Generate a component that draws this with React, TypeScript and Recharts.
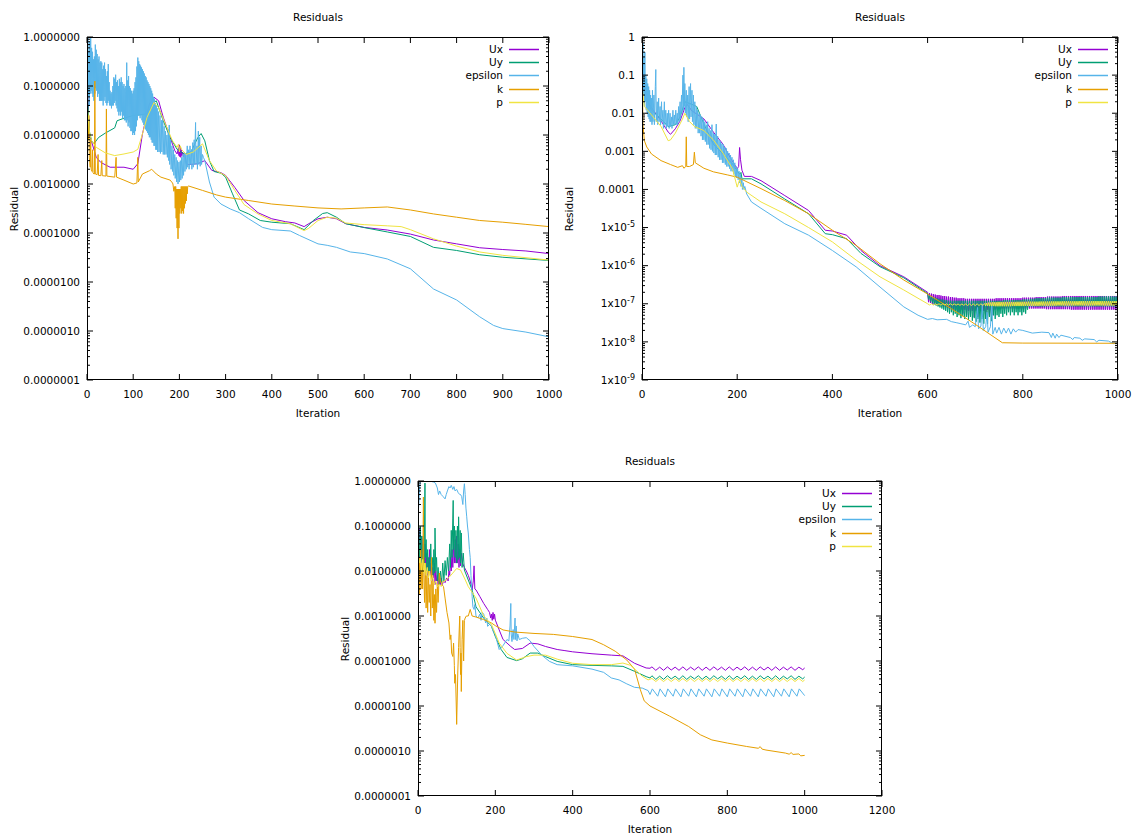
import React from 'react';
import { LineChart, Line, XAxis, YAxis } from 'recharts';

type Pt = [number, number];

const SERIES_NAMES = ['Ux', 'Uy', 'epsilon', 'k', 'p'];
const SERIES_COLORS = ['#9400d3', '#009e73', '#56b4e9', '#e69f00', '#f0e442'];
const FONT = '"DejaVu Sans", sans-serif';
const FS = 10.5;

// ---------------- Panel A (top left) ----------------
const A_X_TICKS = [0, 100, 200, 300, 400, 500, 600, 700, 800, 900, 1000];
const A_X_LABELS = ['0', '100', '200', '300', '400', '500', '600', '700', '800', '900', '1000'];
const A_Y_MAJOR = [1, 1e-1, 1e-2, 1e-3, 1e-4, 1e-5, 1e-6, 1e-7];
const A_Y_LABELS = ['1.0000000', '0.1000000', '0.0100000', '0.0010000', '0.0001000', '0.0000100', '0.0000010', '0.0000001'];

const A_UX: Pt[] = [[0,1.7e-1],[5,1.05e-2],[20,3.5e-3],[30,2.75e-3],[50,2.2e-3],[80,2.2e-3],[100,2.0e-3],[110,2.6e-3],[120,1.05e-2],[135,4.3e-2],[145,5.9e-2],[155,5.0e-2],[165,2.3e-2],[180,8.9e-3],[190,4.8e-3],[195,4.1e-3],[198,5.5e-3],[199,3.8e-3],[200,6.3e-3],[201,3.6e-3],[202,5.8e-3],[203,3.5e-3],[204,5.0e-3],[205,3.8e-3],[207,4.5e-3],[209,3.6e-3],[212,4.0e-3],[215,2.6e-3],[220,2.5e-3],[240,2.6e-3],[255,3.0e-3],[270,1.9e-3],[290,1.7e-3],[300,1.5e-3],[320,8.5e-4],[340,4.6e-4],[370,2.6e-4],[400,1.95e-4],[430,1.7e-4],[450,1.6e-4],[470,1.35e-4],[480,1.55e-4],[500,1.95e-4],[520,2.1e-4],[540,1.95e-4],[560,1.55e-4],[600,1.3e-4],[650,1.15e-4],[700,9.5e-5],[750,7.2e-5],[800,6.0e-5],[850,5.0e-5],[900,4.6e-5],[950,4.3e-5],[1000,3.8e-5]];
const A_UY: Pt[] = [[0,1.1e-1],[5,1.2e-2],[10,7.6e-3],[15,6.6e-3],[25,8.9e-3],[40,1.1e-2],[60,1.4e-2],[65,1.95e-2],[80,2.2e-2],[100,2.5e-2],[130,2.7e-2],[145,4.6e-2],[150,5.0e-2],[165,1.95e-2],[180,8.9e-3],[195,5.1e-3],[210,4.1e-3],[225,4.5e-3],[240,8.9e-3],[247,1.07e-2],[255,7.6e-3],[265,3.0e-3],[275,1.8e-3],[290,1.66e-3],[300,1.38e-3],[315,6.3e-4],[330,2.95e-4],[350,2.45e-4],[375,1.8e-4],[400,1.66e-4],[440,1.55e-4],[470,1.17e-4],[490,1.8e-4],[510,2.5e-4],[520,2.6e-4],[540,2.1e-4],[560,1.55e-4],[600,1.29e-4],[650,1.05e-4],[700,8.5e-5],[750,5.1e-5],[800,4.4e-5],[850,3.6e-5],[900,3.2e-5],[1000,2.75e-5]];
const A_EPS: Pt[] = [[0,0.9],[1,0.05],[2,1.0],[3,0.06],[4,0.5],[5,0.04],[6,0.8],[7,0.07],[8,0.95],[9,0.08],[10,0.6],[11,0.07],[12,0.5],[13,0.06],[14,0.35],[15,0.05],[16,0.4],[17,0.07],[18,0.7],[19,0.09],[20,0.55],[21,0.08],[22,0.45],[23,0.06],[24,0.35],[25,0.07],[26,0.4],[27,0.05],[28,0.3],[29,0.05],[30,0.32],[31,0.05],[32,0.3],[33,0.05],[34,0.22],[35,0.04],[36,0.26],[37,0.05],[38,0.3],[39,0.06],[40,0.22],[41,0.045],[42,0.16],[43,0.04],[44,0.2],[45,0.045],[46,0.28],[47,0.05],[48,0.12],[49,0.04],[50,0.08],[51,0.04],[52,0.07],[53,0.035],[54,0.075],[55,0.04],[56,0.1],[57,0.04],[58,0.15],[59,0.045],[60,0.14],[61,0.05],[62,0.17],[63,0.04],[64,0.12],[65,0.035],[66,0.13],[67,0.03],[68,0.1],[69,0.025],[70,0.14],[71,0.03],[72,0.12],[73,0.025],[74,0.15],[75,0.03],[76,0.12],[77,0.022],[78,0.1],[79,0.025],[80,0.11],[81,0.02],[82,0.09],[83,0.02],[84,0.1],[85,0.018],[86,0.3],[87,0.02],[88,0.13],[89,0.015],[90,0.16],[91,0.018],[92,0.1],[93,0.014],[94,0.09],[95,0.012],[96,0.08],[97,0.012],[98,0.07],[99,0.01],[100,0.08],[101,0.011],[102,0.09],[103,0.01],[104,0.12],[105,0.012],[106,0.15],[107,0.015],[108,0.25],[109,0.02],[110,0.38],[111,0.025],[112,0.32],[113,0.025],[114,0.28],[115,0.022],[116,0.26],[117,0.025],[118,0.24],[119,0.02],[120,0.22],[121,0.018],[122,0.2],[123,0.016],[124,0.18],[125,0.015],[126,0.16],[127,0.013],[128,0.15],[129,0.012],[130,0.13],[131,0.011],[132,0.12],[133,0.01],[134,0.11],[135,0.009],[136,0.1],[137,0.009],[138,0.09],[139,0.008],[140,0.08],[141,0.007],[142,0.07],[143,0.007],[144,0.06],[145,0.006],[146,0.055],[147,0.006],[148,0.045],[149,0.005],[150,0.04],[151,0.005],[152,0.035],[153,0.0045],[155,0.03],[156,0.0045],[158,0.025],[159,0.0042],[161,0.02],[162,0.0045],[164,0.022],[165,0.004],[167,0.015],[168,0.004],[170,0.012],[171,0.004],[173,0.01],[174,0.0035],[176,0.013],[177,0.003],[178,0.016],[179,0.0025],[181,0.008],[182,0.002],[184,0.006],[185,0.0018],[187,0.005],[188,0.0015],[190,0.004],[191,0.0013],[193,0.0035],[194,0.0011],[196,0.003],[197,0.001],[199,0.0028],[200,0.0011],[202,0.003],[203,0.0012],[205,0.0035],[206,0.0013],[208,0.004],[209,0.0015],[211,0.0045],[212,0.0018],[214,0.004],[215,0.002],[217,0.006],[218,0.0022],[220,0.005],[221,0.002],[223,0.006],[224,0.0025],[226,0.005],[227,0.002],[229,0.007],[230,0.0022],[232,0.008],[233,0.0025],[235,0.018],[236,0.0025],[238,0.006],[239,0.002],[241,0.012],[242,0.0025],[244,0.009],[245,0.0023],[247,0.006],[248,0.0025],[250,0.004],[252,0.0035],[255,3.0e-3],[265,1.1e-3],[275,5.4e-4],[290,3.9e-4],[310,3.1e-4],[330,2.6e-4],[350,1.95e-4],[380,1.3e-4],[400,1.17e-4],[440,1.1e-4],[460,8.9e-5],[500,6.0e-5],[520,5.6e-5],[540,5.1e-5],[570,4.1e-5],[600,3.8e-5],[650,2.95e-5],[700,1.86e-5],[750,7.2e-6],[800,4.3e-6],[850,1.95e-6],[880,1.3e-6],[900,1.12e-6],[950,9.5e-7],[1000,7.6e-7]];
const A_K: Pt[] = [[0,4e-2],[2,1.2e-2],[3,8e-3],[4,2.5e-2],[5,3.5e-3],[7,2.2e-3],[8,8e-3],[9,2.0e-3],[11,1.8e-3],[12,5e-3],[13,1.7e-3],[15,1.6e-3],[16,1.6e-3],[17,1.26e-1],[18,1.6e-3],[22,1.55e-3],[24,4e-3],[25,1.5e-3],[30,1.48e-3],[32,3e-3],[33,1.48e-3],[41,1.45e-3],[42,3.4e-2],[43,1.45e-3],[60,1.38e-3],[63,3.5e-3],[64,1.38e-3],[80,1.2e-3],[100,1.0e-3],[108,1.05e-3],[110,3.5e-3],[111,1.1e-3],[120,1.6e-3],[135,1.86e-3],[140,2.0e-3],[150,1.6e-3],[160,1.38e-3],[180,1.2e-3],[185,1.05e-3],[186,1.0e-3],[188,7.1e-4],[190,8.9e-4],[191,3.2e-4],[192,8.9e-4],[193,2.0e-4],[194,7.9e-4],[195,1.26e-4],[196,7.9e-4],[197,7.6e-5],[198,7.9e-4],[199,1.26e-4],[200,7.9e-4],[201,2.5e-4],[202,7.9e-4],[203,3.2e-4],[204,8.9e-4],[205,2.5e-4],[206,8.9e-4],[207,2.8e-4],[208,8.9e-4],[209,2.5e-4],[210,8.9e-4],[211,3.2e-4],[212,8.9e-4],[213,4.0e-4],[214,8.9e-4],[215,4.5e-4],[216,8.9e-4],[217,6.3e-4],[218,8.9e-4],[220,9.1e-4],[250,7.4e-4],[280,6.0e-4],[300,5.4e-4],[350,4.6e-4],[400,3.9e-4],[450,3.55e-4],[500,3.25e-4],[550,3.1e-4],[600,3.25e-4],[650,3.4e-4],[700,2.95e-4],[750,2.45e-4],[800,2.1e-4],[850,1.8e-4],[900,1.66e-4],[950,1.5e-4],[1000,1.35e-4]];
const A_P: Pt[] = [[0,5e-2],[5,1.2e-2],[10,7.6e-3],[20,5.6e-3],[40,4.3e-3],[60,3.8e-3],[80,4.1e-3],[100,4.5e-3],[110,5.1e-3],[120,1.05e-2],[130,2.3e-2],[145,4.6e-2],[155,3.6e-2],[170,1.66e-2],[185,7.6e-3],[195,5.6e-3],[198,6.5e-3],[200,4.5e-3],[202,6e-3],[205,5.0e-3],[215,4.0e-3],[230,4.5e-3],[250,6.6e-3],[265,3.0e-3],[280,1.86e-3],[300,1.48e-3],[320,7.4e-4],[340,3.8e-4],[370,2.45e-4],[400,1.8e-4],[440,1.55e-4],[470,1.12e-4],[480,1.25e-4],[500,1.8e-4],[520,2.1e-4],[540,2.0e-4],[560,1.6e-4],[600,1.48e-4],[650,1.4e-4],[680,1.35e-4],[700,1.17e-4],[750,7.6e-5],[800,5.4e-5],[850,4.1e-5],[900,3.5e-5],[1000,2.8e-5]];

// ---------------- Panel B (top right) ----------------
const B_X_TICKS = [0, 200, 400, 600, 800, 1000];
const B_X_LABELS = ['0', '200', '400', '600', '800', '1000'];
const B_Y_MAJOR = [1, 1e-1, 1e-2, 1e-3, 1e-4, 1e-5, 1e-6, 1e-7, 1e-8, 1e-9];
const B_Y_LABELS = ['1', '0.1', '0.01', '0.001', '0.0001', '1x10^-5', '1x10^-6', '1x10^-7', '1x10^-8', '1x10^-9'];

const B_UX: Pt[] = [[0,5e-1],[2,1e-1],[5,3e-2],[20,1.4e-2],[40,6.3e-3],[55,3.2e-3],[60,2.8e-3],[70,3.9e-3],[80,6.3e-3],[90,1.4e-2],[95,1.7e-2],[105,1.15e-2],[115,9.5e-3],[130,7.1e-3],[150,3.2e-3],[170,1.55e-3],[185,6.9e-4],[200,3.5e-4],[203,4e-4],[205,1.26e-3],[207,6e-4],[210,3.2e-4],[215,2.2e-4],[230,2.2e-4],[250,1.7e-4],[300,6.9e-5],[350,2.8e-5],[385,8.5e-6],[400,8.1e-6],[430,6.3e-6],[460,2.5e-6],[500,1.0e-6],[550,5.1e-7],
[600,2.0e-7],[602,1.1e-7],[604,1.9e-7],[606,1.05e-7],[608,1.85e-7],[610,1.0e-7],[612,1.8e-7],[614,9.5e-8],[616,1.75e-7],[618,9.5e-8],[620,1.7e-7],[622,9e-8],[624,1.7e-7],[626,9e-8],[628,1.65e-7],[630,8.5e-8],[632,1.6e-7],[634,8.5e-8],[636,1.6e-7],[638,8e-8],[640,1.55e-7],[642,8e-8],[644,1.55e-7],[646,7.5e-8],[648,1.5e-7],[650,7.5e-8],[652,1.5e-7],[654,7e-8],[656,1.45e-7],[658,6.5e-8],[660,1.45e-7],[662,7e-8],[664,1.4e-7],[666,6e-8],[668,1.4e-7],[670,7e-8],[672,1.4e-7],[674,5.5e-8],[676,1.4e-7],[678,7e-8],[680,1.35e-7],[682,5e-8],[684,1.35e-7],[686,6.5e-8],[688,1.35e-7],[690,5e-8],[692,1.35e-7],[694,6.5e-8],[696,1.35e-7],[698,4.5e-8],[700,1.35e-7],[702,6.5e-8],[704,1.35e-7],[706,4.5e-8],[708,1.35e-7],[710,6.5e-8],[712,1.35e-7],[714,4.5e-8],[716,1.35e-7],[718,6.5e-8],[720,1.35e-7],[722,4e-8],[724,1.35e-7],[726,7e-8],[728,1.35e-7],[730,4.5e-8],[732,1.35e-7],[734,7e-8],[736,1.35e-7],[738,5e-8],[740,1.35e-7],[742,7e-8],[744,1.4e-7],[746,7.5e-8],[748,1.4e-7],[750,7.5e-8],
[752,1.4e-7],[754,7.5e-8],[756,1.4e-7],[758,7.5e-8],[760,1.4e-7],[762,7.5e-8],[764,1.4e-7],[766,7.5e-8],[768,1.4e-7],[770,7.5e-8],[772,1.4e-7],[774,7.5e-8],[776,1.4e-7],[778,7.5e-8],[780,1.4e-7],[782,7.5e-8],[784,1.4e-7],[786,7.5e-8],[788,1.4e-7],[790,7.5e-8],[792,1.4e-7],[794,7.5e-8],[796,1.4e-7],[798,7.5e-8],[800,1.45e-7],[802,7.5e-8],[804,1.45e-7],[806,7.5e-8],[808,1.45e-7],[810,7.5e-8],[812,1.45e-7],[814,7.5e-8],[816,1.45e-7],[818,7.5e-8],[820,1.45e-7],[822,7.5e-8],[824,1.45e-7],[826,7.5e-8],[828,1.5e-7],[830,7.5e-8],[832,1.5e-7],[834,7.5e-8],[836,1.5e-7],[838,7.5e-8],[840,1.5e-7],[842,7.5e-8],[844,1.5e-7],[846,7.5e-8],[848,1.5e-7],[850,7.2e-8],[852,1.55e-7],[854,7.2e-8],[856,1.55e-7],[858,7.2e-8],[860,1.55e-7],[862,7.2e-8],[864,1.55e-7],[866,7.2e-8],[868,1.55e-7],[870,7.2e-8],[872,1.55e-7],[874,7.2e-8],[876,1.55e-7],[878,7.2e-8],[880,1.55e-7],[882,7.2e-8],[884,1.6e-7],[886,7.2e-8],[888,1.6e-7],[890,7.2e-8],[892,1.6e-7],[894,7.2e-8],[896,1.6e-7],[898,7.2e-8],[900,1.6e-7],[902,7e-8],[904,1.6e-7],[906,7e-8],[908,1.6e-7],[910,7e-8],[912,1.6e-7],[914,7e-8],[916,1.6e-7],[918,7e-8],[920,1.6e-7],[922,7e-8],[924,1.6e-7],[926,7e-8],[928,1.6e-7],[930,7e-8],[932,1.6e-7],[934,7e-8],[936,1.6e-7],[938,7e-8],[940,1.6e-7],[942,7e-8],[944,1.6e-7],[946,7e-8],[948,1.6e-7],[950,7e-8],[952,1.6e-7],[954,7e-8],[956,1.6e-7],[958,7e-8],[960,1.6e-7],[962,7e-8],[964,1.6e-7],[966,7e-8],[968,1.6e-7],[970,7e-8],[972,1.6e-7],[974,7e-8],[976,1.6e-7],[978,7e-8],[980,1.6e-7],[982,7e-8],[984,1.6e-7],[986,7e-8],[988,1.6e-7],[990,7e-8],[992,1.6e-7],[994,7e-8],[996,1.6e-7],[998,7e-8],[1000,1.6e-7]];
const B_UY: Pt[] = [[0,5e-1],[2,1e-1],[5,3e-2],[20,1.2e-2],[40,7e-3],[55,4.5e-3],[70,5e-3],[80,8e-3],[90,2.0e-2],[100,1.8e-2],[115,1.5e-2],[130,5.2e-3],[150,1.55e-3],[170,8.5e-4],[190,4.7e-4],[205,2.5e-4],[208,2.8e-4],[210,1.9e-4],[230,1.9e-4],[250,1.4e-4],[300,5.6e-5],[350,2.3e-5],[385,6.9e-6],[400,6.5e-6],[430,5.1e-6],[460,2.1e-6],[500,9.4e-7],[550,4.8e-7],
[600,1.86e-7],[602,1.3e-7],[604,1.7e-7],[606,1.15e-7],[608,1.6e-7],[610,1.05e-7],[612,1.5e-7],[614,9.5e-8],[616,1.45e-7],[618,9e-8],[620,1.4e-7],[622,8.5e-8],[624,1.35e-7],[626,8e-8],[628,1.3e-7],[630,7.5e-8],[632,1.3e-7],[634,7e-8],[636,1.25e-7],[638,6.5e-8],[640,1.25e-7],[642,6e-8],[644,1.2e-7],[646,5.5e-8],[648,1.2e-7],[650,6e-8],[652,1.2e-7],[654,5e-8],[656,1.2e-7],[658,5.5e-8],[660,1.2e-7],[662,4.5e-8],[664,1.2e-7],[666,5e-8],[668,1.2e-7],[670,4.2e-8],[672,1.2e-7],[674,4.8e-8],[676,1.2e-7],[678,4e-8],[680,1.2e-7],[682,4.5e-8],[684,1.2e-7],[686,3.8e-8],[688,1.2e-7],[690,4.5e-8],[692,1.2e-7],[694,3.6e-8],[696,1.2e-7],[698,4.2e-8],[700,1.2e-7],[702,3.4e-8],[704,1.2e-7],[706,4e-8],[708,1.2e-7],[710,3.2e-8],[712,1.2e-7],[714,4e-8],[716,1.2e-7],[718,3e-8],[720,1.2e-7],[722,4e-8],[724,1.2e-7],[726,3e-8],[728,1.2e-7],[730,4.5e-8],[732,1.2e-7],[734,3.5e-8],[736,1.2e-7],[738,5e-8],[740,1.2e-7],[742,4e-8],[744,1.2e-7],[746,5e-8],[748,1.2e-7],[750,4.5e-8],[752,1.2e-7],[754,5.5e-8],[756,1.2e-7],[758,4.5e-8],[760,1.25e-7],[762,5.5e-8],[764,1.25e-7],[766,5e-8],[768,1.25e-7],[770,6e-8],[772,1.25e-7],[774,5e-8],[776,1.25e-7],[778,6e-8],[780,1.25e-7],[782,5e-8],[784,1.25e-7],[786,6e-8],[788,1.25e-7],[790,5e-8],[792,1.25e-7],[794,6e-8],[796,1.25e-7],[798,5e-8],[800,1.3e-7],[802,6e-8],[804,1.3e-7],[806,5.5e-8],[808,1.3e-7],[810,7e-8],[812,1.3e-7],
[814,8.5e-8],[816,1.35e-7],[818,8.5e-8],[820,1.35e-7],[822,8.5e-8],[824,1.35e-7],[826,8.5e-8],[828,1.4e-7],[830,8.5e-8],[832,1.4e-7],[834,8.5e-8],[836,1.4e-7],[838,8.5e-8],[840,1.4e-7],[842,8.5e-8],[844,1.4e-7],[846,8.5e-8],[848,1.4e-7],[850,8.5e-8],[852,1.45e-7],[854,8.5e-8],[856,1.45e-7],[858,8.5e-8],[860,1.45e-7],[862,8.5e-8],[864,1.45e-7],[866,8.5e-8],[868,1.45e-7],[870,8.5e-8],[872,1.45e-7],[874,8.5e-8],[876,1.45e-7],[878,8.5e-8],[880,1.45e-7],[882,8.5e-8],[884,1.5e-7],[886,8.5e-8],[888,1.5e-7],[890,8.5e-8],[892,1.5e-7],[894,8.5e-8],[896,1.5e-7],[898,8.5e-8],[900,1.5e-7],[902,8.5e-8],[904,1.5e-7],[906,8.5e-8],[908,1.5e-7],[910,8.5e-8],[912,1.5e-7],[914,8.5e-8],[916,1.5e-7],[918,8.5e-8],[920,1.5e-7],[922,8.5e-8],[924,1.5e-7],[926,8.5e-8],[928,1.5e-7],[930,8.5e-8],[932,1.5e-7],[934,8.5e-8],[936,1.5e-7],[938,8.5e-8],[940,1.5e-7],[942,8.5e-8],[944,1.5e-7],[946,8.5e-8],[948,1.5e-7],[950,8.5e-8],[952,1.5e-7],[954,8.5e-8],[956,1.5e-7],[958,8.5e-8],[960,1.55e-7],[962,8.5e-8],[964,1.55e-7],[966,8.5e-8],[968,1.55e-7],[970,8.5e-8],[972,1.55e-7],[974,8.5e-8],[976,1.55e-7],[978,8.5e-8],[980,1.55e-7],[982,8.5e-8],[984,1.55e-7],[986,8.5e-8],[988,1.55e-7],[990,8.5e-8],[992,1.55e-7],[994,8.5e-8],[996,1.55e-7],[998,8.5e-8],[1000,1.5e-7]];
const B_EPS: Pt[] = [[0,0.6],[1,0.02],[2,0.7],[3,0.03],[4,0.3],[5,0.015],[6,0.4],[7,0.02],[8,0.1],[9,0.012],[10,0.08],[11,0.01],[12,0.06],[13,0.008],[14,0.05],[15,0.007],[16,0.04],[17,0.006],[18,0.03],[19,0.006],[20,0.025],[21,0.005],[22,0.04],[23,0.006],[25,0.03],[26,0.005],[28,0.05],[29,0.14],[30,0.006],[32,0.02],[33,0.005],[35,0.025],[36,0.006],[38,0.015],[39,0.005],[41,0.02],[42,0.006],[44,0.012],[45,0.004],[47,0.02],[48,0.005],[50,0.012],[51,0.004],[53,0.01],[54,0.0045],[56,0.012],[57,0.004],[59,0.01],[60,0.0045],[62,0.008],[63,0.004],[65,0.012],[66,0.005],[68,0.009],[69,0.005],[71,0.012],[72,0.005],[74,0.01],[75,0.005],[77,0.015],[78,0.006],[80,0.02],[81,0.007],[83,0.03],[84,0.01],[86,0.1],[87,0.012],[88,0.16],[89,0.015],[90,0.06],[91,0.01],[93,0.04],[94,0.008],[96,0.03],[97,0.006],[99,0.05],[100,0.007],[102,0.06],[103,0.008],[105,0.04],[106,0.006],[108,0.03],[109,0.005],[111,0.02],[112,0.004],[114,0.015],[115,0.004],[117,0.012],[118,0.003],[120,0.01],[121,0.003],[123,0.009],[124,0.0025],[126,0.008],[127,0.002],[129,0.007],[130,0.002],[132,0.006],[133,0.0018],[135,0.005],[136,0.0015],[138,0.006],[139,0.0015],[141,0.004],[142,0.0012],[144,0.0035],[145,0.0011],[147,0.005],[148,0.001],[150,0.003],[151,0.0009],[153,0.0028],[154,0.0008],[156,0.0052],[157,0.0008],[159,0.0025],[160,0.0007],[162,0.002],[163,0.0006],[165,0.0018],[166,0.0006],[168,0.0016],[169,0.0005],[171,0.0015],[172,0.0005],[174,0.0013],[175,0.00045],[177,0.0012],[178,0.0004],[180,0.001],[181,0.0004],[183,0.0009],[184,0.00035],[186,0.0008],[187,0.0003],[189,0.0007],[190,0.0003],[192,0.0006],[193,0.00025],[195,0.0005],[196,0.00022],[198,0.0004],[199,0.0002],[201,0.00035],[202,0.00018],[204,0.0003],[205,0.00015],[207,0.00025],[208,0.00012],[210,0.0002],[211,0.0001],[213,0.00015],[214,0.0001],[216,0.00012],[220,7.6e-5],[230,4.7e-5],[250,3.2e-5],[300,1.26e-5],[350,6.3e-6],[400,2.5e-6],[450,9.3e-7],[500,2.75e-7],[550,8.3e-8],[580,5.0e-8],[600,3.9e-8],[610,4.1e-8],[620,3.8e-8],[640,3.9e-8],[650,3.4e-8],[660,3.2e-8],[670,3.0e-8],[680,2.8e-8],[685,3.5e-8],[688,2.4e-8],[695,2.8e-8],[700,2.5e-8],[705,8e-8],[707,2.2e-8],[712,2.6e-8],[715,1.0e-7],[717,2.0e-8],[722,2.5e-8],[725,6e-8],[727,1.8e-8],[732,2.5e-8],[735,1.0e-7],[737,1.6e-8],[742,2.4e-8],[745,1.7e-8],[750,2.4e-8],[755,1.6e-8],[760,2.3e-8],[765,1.7e-8],[770,2.3e-8],[775,1.6e-8],[780,2.2e-8],[785,1.8e-8],[790,2.1e-8],[800,2.0e-8],[820,1.7e-8],[840,1.8e-8],[855,1.75e-8],[860,1.3e-8],[863,1.7e-8],[868,1.25e-8],[871,1.6e-8],[876,1.3e-8],[880,1.5e-8],[900,1.3e-8],[905,1.15e-8],[908,1.3e-8],[920,1.25e-8],[925,1.1e-8],[930,1.2e-8],[950,1.15e-8],[955,1.0e-8],[960,1.1e-8],[980,1.05e-8],[990,9e-9],[1000,9.5e-9]];
const B_K: Pt[] = [[0,3e-1],[1,5e-2],[2,5e-3],[5,1.9e-3],[10,1.3e-3],[20,8.5e-4],[40,5.7e-4],[60,4.5e-4],[75,3.8e-4],[85,4.2e-4],[88,3.6e-4],[92,4.0e-4],[93,2.4e-3],[94,4.0e-4],[100,4.0e-4],[108,4.5e-4],[110,9.5e-4],[112,5.0e-4],[130,3.6e-4],[150,2.9e-4],[180,2.4e-4],[200,2.1e-4],[250,1.05e-4],[300,5.1e-5],[350,2.3e-5],[400,8.5e-6],[450,3.4e-6],[500,1.12e-6],[550,4.2e-7],[600,1.8e-7],[650,7.4e-8],[700,2.9e-8],[757,9.5e-9],[800,9.3e-9],[1000,9.2e-9]];
const B_P: Pt[] = [[0,5e-2],[5,1.5e-2],[20,9e-3],[40,4.5e-3],[55,1.9e-3],[60,2.0e-3],[70,3e-3],[85,7e-3],[90,1.0e-2],[100,6e-3],[110,4.5e-3],[130,3.5e-3],[150,2.0e-3],[170,9e-4],[190,3.5e-4],[200,1.15e-4],[205,1.8e-4],[210,1.2e-4],[220,8.5e-5],[250,4.7e-5],[300,2.3e-5],[350,1.0e-5],[400,4.2e-6],[450,1.4e-6],[500,5.1e-7],[550,2.3e-7],
[600,1.0e-7],[604,9.3e-8],[608,1.0e-7],[612,9.2e-8],[616,1.0e-7],[620,9.3e-8],[624,1.0e-7],[628,9.2e-8],[632,1.0e-7],[636,9.3e-8],[640,1.0e-7],[644,9.2e-8],[648,1.0e-7],[652,9.2e-8],[656,9.9e-8],[660,9.2e-8],[664,9.9e-8],[668,9.1e-8],[672,9.9e-8],[676,9.1e-8],[680,9.9e-8],[684,9.0e-8],[688,9.9e-8],[692,9.0e-8],[696,9.9e-8],[700,9.0e-8],[704,1.0e-7],[708,9.0e-8],[712,1.0e-7],[716,9.0e-8],[720,1.02e-7],
[722,8.8e-8],[724,1.05e-7],[726,8.8e-8],[728,1.07e-7],[730,8.7e-8],[732,1.08e-7],[734,8.7e-8],[736,1.1e-7],[738,8.7e-8],[740,1.1e-7],[742,8.6e-8],[744,1.1e-7],[746,8.6e-8],[748,1.12e-7],[750,8.6e-8],[752,1.12e-7],[754,8.6e-8],[756,1.12e-7],[758,8.6e-8],[760,1.12e-7],[762,8.6e-8],[764,1.12e-7],[766,8.6e-8],[768,1.12e-7],[770,8.6e-8],[772,1.12e-7],[774,8.6e-8],[776,1.12e-7],[778,8.7e-8],[780,1.12e-7],[782,8.7e-8],[784,1.12e-7],[786,8.7e-8],[788,1.13e-7],[790,8.7e-8],[792,1.13e-7],[794,8.7e-8],[796,1.13e-7],[798,8.7e-8],[800,1.13e-7],[802,8.7e-8],[804,1.13e-7],[806,8.8e-8],[808,1.13e-7],[810,8.8e-8],[812,1.14e-7],[814,8.8e-8],[816,1.14e-7],[818,8.8e-8],[820,1.14e-7],[822,8.8e-8],[824,1.14e-7],[826,8.8e-8],[828,1.14e-7],[830,8.8e-8],[832,1.14e-7],[834,8.8e-8],[836,1.15e-7],[838,8.9e-8],[840,1.15e-7],[842,8.9e-8],[844,1.15e-7],[846,8.9e-8],[848,1.15e-7],[850,8.9e-8],[852,1.15e-7],[854,8.9e-8],[856,1.15e-7],[858,8.9e-8],[860,1.16e-7],[862,8.9e-8],[864,1.16e-7],[866,8.9e-8],[868,1.16e-7],[870,8.9e-8],[872,1.16e-7],[874,9.0e-8],[876,1.16e-7],[878,9.0e-8],[880,1.16e-7],[882,9.0e-8],[884,1.17e-7],[886,9.0e-8],[888,1.17e-7],[890,9.0e-8],[892,1.17e-7],[894,9.0e-8],[896,1.17e-7],[898,9.0e-8],[900,1.17e-7],[902,9.0e-8],[904,1.17e-7],[906,9.0e-8],[908,1.17e-7],[910,9.0e-8],[912,1.17e-7],[914,9.0e-8],[916,1.17e-7],[918,9.0e-8],[920,1.18e-7],[922,9.0e-8],[924,1.18e-7],[926,9.0e-8],[928,1.18e-7],[930,9.0e-8],[932,1.18e-7],[934,9.0e-8],[936,1.18e-7],[938,9.0e-8],[940,1.18e-7],[942,9.0e-8],[944,1.18e-7],[946,9.0e-8],[948,1.18e-7],[950,9.0e-8],[952,1.18e-7],[954,9.0e-8],[956,1.18e-7],[958,9.0e-8],[960,1.18e-7],[962,9.0e-8],[964,1.18e-7],[966,9.0e-8],[968,1.18e-7],[970,9.0e-8],[972,1.18e-7],[974,9.0e-8],[976,1.18e-7],[978,9.0e-8],[980,1.18e-7],[982,9.0e-8],[984,1.18e-7],[986,9.0e-8],[988,1.18e-7],[990,9.0e-8],[992,1.18e-7],[994,9.0e-8],[996,1.18e-7],[998,9.0e-8],[1000,1.05e-7]];

// ---------------- Panel C (bottom) ----------------
const C_X_TICKS = [0, 200, 400, 600, 800, 1000, 1200];
const C_X_LABELS = ['0', '200', '400', '600', '800', '1000', '1200'];
const C_Y_MAJOR = [1, 1e-1, 1e-2, 1e-3, 1e-4, 1e-5, 1e-6, 1e-7];
const C_Y_LABELS = ['1.0000000', '0.1000000', '0.0100000', '0.0010000', '0.0001000', '0.0000100', '0.0000010', '0.0000001'];

const C_UX: Pt[] = [[0,8e-2],[2,4e-2],[4,9e-2],[6,3e-2],[8,6e-2],[10,5e-2],[12,2e-2],[14,6e-2],[16,1.5e-2],[18,4e-2],[20,1.2e-2],[22,2.5e-2],[24,8e-3],[26,2e-2],[28,1e-2],[30,3e-2],[32,8e-3],[34,1.5e-2],[36,6e-3],[38,1.2e-2],[40,7e-3],[42,1.5e-2],[44,5e-3],[46,1e-2],[48,6e-3],[50,8e-3],[52,5e-3],[55,9e-3],[58,5e-3],[60,7e-3],[63,5e-3],[66,6e-3],[70,5.5e-3],[74,7e-3],[78,6e-3],[80,1e-2],[82,8e-3],[84,2e-2],[86,1e-2],[88,3e-2],[90,1.2e-2],[92,4e-2],[94,1.5e-2],[96,5e-2],[98,1.5e-2],[100,6e-2],[102,1.5e-2],[104,4e-2],[106,1.2e-2],[108,3e-2],[110,1.3e-2],[112,2.5e-2],[115,1.5e-2],[120,1.2e-2],[125,1.0e-2],[130,8e-3],[135,6e-3],[140,3.8e-3],[143,6e-3],[145,1.3e-2],[147,4e-3],[150,3.8e-3],[160,2.7e-3],[170,1.9e-3],[180,1.4e-3],[185,1.2e-3],[188,9e-4],[190,1.1e-3],[192,8e-4],[194,1.2e-3],[196,8.5e-4],[198,1.1e-3],[200,8.1e-4],[210,4.9e-4],[220,3.0e-4],[240,2.1e-4],[250,1.8e-4],[270,1.9e-4],[290,2.5e-4],[310,2.4e-4],[330,2.1e-4],[360,1.8e-4],[380,1.7e-4],[400,1.6e-4],[450,1.45e-4],[500,1.35e-4],[530,1.3e-4],[560,8.9e-5],[590,7.0e-5],[600,6.9e-5],[605,7.4e-5],[615,6.2e-5],[625,7.3e-5],[635,6.2e-5],[645,7.4e-5],[655,6.3e-5],[665,7.3e-5],[675,6.2e-5],[685,7.4e-5],[695,6.2e-5],[705,7.3e-5],[715,6.3e-5],[725,7.4e-5],[735,6.2e-5],[745,7.3e-5],[755,6.2e-5],[765,7.4e-5],[775,6.3e-5],[785,7.3e-5],[795,6.2e-5],[805,7.4e-5],[815,6.2e-5],[825,7.3e-5],[835,6.3e-5],[845,7.4e-5],[855,6.2e-5],[865,7.3e-5],[875,6.2e-5],[885,7.4e-5],[895,6.3e-5],[905,7.3e-5],[915,6.2e-5],[925,7.4e-5],[935,6.2e-5],[945,7.3e-5],[955,6.3e-5],[965,7.4e-5],[975,6.2e-5],[985,7.3e-5],[995,6.4e-5],[1000,7.0e-5]];
const C_UY: Pt[] = [[0,3e-2],[2,8e-2],[4,2e-2],[6,1e-1],[8,1.5e-2],[10,6e-2],[12,1e-2],[14,4e-2],[16,1.5e-2],[18,9e-1],[19,2e-2],[21,5e-2],[23,1e-2],[25,3e-2],[27,8e-3],[29,2e-2],[31,1e-2],[33,4e-2],[35,9e-3],[37,2e-2],[39,8e-3],[41,3e-2],[43,9e-3],[44,9e-2],[46,1e-2],[48,2e-2],[50,6e-3],[52,1.2e-2],[55,5e-3],[58,1e-2],[61,5e-3],[64,1.5e-2],[67,6e-3],[70,1.7e-2],[73,8e-3],[76,2e-2],[79,1e-2],[82,4e-2],[84,1.2e-2],[86,8e-2],[88,2e-2],[90,1.5e-1],[91,3.7e-1],[92,3e-2],[94,1e-1],[96,2e-2],[98,8e-2],[100,1.5e-2],[102,1e-1],[104,1.8e-2],[105,1.6e-1],[107,2e-2],[109,8e-2],[110,1.5e-2],[112,7e-2],[114,1.2e-2],[117,2.5e-2],[120,1.05e-2],[130,6.3e-3],[140,3.8e-3],[150,1.6e-3],[170,8.9e-4],[190,5.9e-4],[200,3.5e-4],[215,1.8e-4],[230,1.2e-4],[255,1.02e-4],[270,1.12e-4],[290,1.5e-4],[310,1.5e-4],[330,1.25e-4],[360,9.8e-5],[400,8.3e-5],[450,8.0e-5],[500,7.8e-5],[530,7.6e-5],[560,5.9e-5],[590,4.5e-5],[600,4.2e-5],[605,4.7e-5],[615,3.9e-5],[625,4.6e-5],[635,3.9e-5],[645,4.7e-5],[655,4.0e-5],[665,4.6e-5],[675,3.9e-5],[685,4.7e-5],[695,3.9e-5],[705,4.6e-5],[715,4.0e-5],[725,4.7e-5],[735,3.9e-5],[745,4.6e-5],[755,3.9e-5],[765,4.7e-5],[775,4.0e-5],[785,4.6e-5],[795,3.9e-5],[805,4.7e-5],[815,3.9e-5],[825,4.6e-5],[835,4.0e-5],[845,4.7e-5],[855,3.9e-5],[865,4.6e-5],[875,3.9e-5],[885,4.7e-5],[895,4.0e-5],[905,4.6e-5],[915,3.9e-5],[925,4.7e-5],[935,3.9e-5],[945,4.6e-5],[955,4.0e-5],[965,4.7e-5],[975,3.9e-5],[985,4.6e-5],[995,4.0e-5],[1000,4.4e-5]];
const C_EPS: Pt[] = [[0,1.5e-1],[2,3e-1],[4,7e-1],[6,1.0],[10,1.0],[20,1.0],[30,1.0],[40,0.95],[45,0.9],[50,0.7],[53,0.5],[56,0.6],[60,0.5],[65,0.45],[70,0.4],[73,0.5],[76,0.6],[80,0.75],[83,0.7],[86,0.8],[90,0.65],[93,0.75],[96,0.6],[100,0.65],[104,0.55],[108,0.5],[110,0.5],[113,0.45],[116,0.3],[118,0.6],[120,0.87],[122,0.5],[124,0.25],[126,0.16],[128,0.1],[130,0.07],[133,0.03],[135,0.02],[137,0.008],[140,2.7e-3],[142,1.6e-3],[145,1.4e-3],[147,1.8e-3],[150,1.0e-3],[155,9e-4],[160,1.1e-3],[163,8e-4],[166,1.2e-3],[170,1.1e-3],[175,7e-4],[178,9e-4],[180,5.9e-4],[185,6.5e-4],[190,5.9e-4],[195,4.5e-4],[200,3.8e-4],[210,1.8e-4],[220,2.2e-4],[230,3.0e-4],[235,2.8e-4],[238,6e-4],[240,1.9e-3],[241,4e-4],[243,2.7e-4],[246,5e-4],[248,3e-4],[251,9e-4],[252,3e-4],[254,6e-4],[256,2.8e-4],[258,4e-4],[262,3.0e-4],[270,3.2e-4],[280,3.3e-4],[290,2.8e-4],[300,2.1e-4],[320,1.35e-4],[340,9.8e-5],[360,8.3e-5],[400,7.8e-5],[450,6.6e-5],[480,5.6e-5],[500,4.2e-5],[520,3.8e-5],[540,3.1e-5],[560,2.6e-5],[580,2.5e-5],[595,2.2e-5],[600,1.8e-5],[606,2.4e-5],[620,1.65e-5],[626,2.4e-5],[640,1.6e-5],[646,2.4e-5],[660,1.65e-5],[666,2.4e-5],[680,1.6e-5],[686,2.4e-5],[700,1.65e-5],[706,2.4e-5],[720,1.6e-5],[726,2.4e-5],[740,1.65e-5],[746,2.4e-5],[760,1.6e-5],[766,2.4e-5],[780,1.65e-5],[786,2.4e-5],[800,1.6e-5],[806,2.4e-5],[820,1.65e-5],[826,2.4e-5],[840,1.6e-5],[846,2.4e-5],[860,1.65e-5],[866,2.4e-5],[880,1.6e-5],[886,2.4e-5],[900,1.65e-5],[906,2.4e-5],[920,1.6e-5],[926,2.4e-5],[940,1.65e-5],[946,2.4e-5],[960,1.6e-5],[966,2.4e-5],[980,1.65e-5],[986,2.4e-5],[1000,1.7e-5]];
const C_K: Pt[] = [[0,9e-1],[1,1e-1],[2,1e-2],[3,3e-3],[4,2e-2],[5,5e-3],[7,3e-2],[8,4e-3],[10,1.5e-2],[12,4e-3],[14,4.4e-1],[15,1e-2],[17,2e-3],[19,1.5e-2],[21,1.5e-3],[23,8e-3],[25,1.2e-3],[27,1e-2],[29,2e-3],[31,5e-3],[33,1e-3],[35,2e-2],[37,1.5e-3],[39,6e-3],[41,8e-4],[43,3e-3],[44,6.9e-4],[46,4e-3],[48,1.2e-3],[50,5e-3],[52,2e-3],[55,9e-3],[58,6e-3],[62,5e-3],[66,4.5e-3],[70,2.5e-3],[75,1.2e-3],[80,7e-4],[83,3e-4],[85,3.8e-4],[87,1.5e-4],[90,1.26e-4],[92,2.5e-4],[94,8e-5],[95,3.2e-5],[97,5e-5],[99,1e-5],[100,3.9e-6],[101,1e-5],[103,6e-5],[105,2e-4],[107,6e-4],[108,1e-3],[109,2e-4],[110,5e-5],[111,1.5e-4],[112,2.1e-5],[114,3e-4],[116,8e-4],[118,1e-4],[120,8e-4],[122,9e-4],[125,1.0e-3],[130,1.0e-3],[135,1.4e-3],[140,1.0e-3],[150,9.5e-4],[170,8.3e-4],[190,7e-4],[200,6.1e-4],[220,4.9e-4],[250,4.4e-4],[300,4.1e-4],[350,3.9e-4],[400,3.5e-4],[450,3.0e-4],[480,2.3e-4],[510,1.65e-4],[540,1.05e-4],[560,6.6e-5],[575,2.3e-5],[585,1.3e-5],[600,1.0e-5],[650,6.0e-6],[700,3.5e-6],[730,2.3e-6],[760,1.76e-6],[800,1.5e-6],[850,1.26e-6],[880,1.15e-6],[885,1.25e-6],[890,1.1e-6],[900,1.05e-6],[950,9e-7],[960,8.5e-7],[965,9.2e-7],[970,8.4e-7],[985,8.6e-7],[990,7.8e-7],[1000,8.0e-7]];
const C_P: Pt[] = [[0,2.5e-2],[3,1.5e-2],[6,2e-2],[9,1e-2],[12,1.8e-2],[15,9e-3],[18,1.5e-2],[21,8e-3],[24,1.2e-2],[27,7e-3],[30,1e-2],[34,6e-3],[38,8e-3],[42,5e-3],[46,6e-3],[50,4.5e-3],[55,5e-3],[60,4.5e-3],[63,5.8e-3],[70,6e-3],[80,7.2e-3],[90,9e-3],[100,1.14e-2],[110,1.05e-2],[120,7e-3],[130,4.5e-3],[150,2.5e-3],[170,1.0e-3],[190,6.5e-4],[210,2.5e-4],[230,1.48e-4],[255,1.05e-4],[280,1.25e-4],[300,1.35e-4],[330,1.35e-4],[360,1.1e-4],[400,8.9e-5],[450,8.3e-5],[500,8.3e-5],[530,9.0e-5],[550,8.0e-5],[580,4.6e-5],[595,3.8e-5],[605,4.1e-5],[615,3.5e-5],[625,4.1e-5],[635,3.5e-5],[645,4.1e-5],[655,3.5e-5],[665,4.1e-5],[675,3.5e-5],[685,4.1e-5],[695,3.5e-5],[705,4.1e-5],[715,3.5e-5],[725,4.1e-5],[735,3.5e-5],[745,4.1e-5],[755,3.5e-5],[765,4.1e-5],[775,3.5e-5],[785,4.1e-5],[795,3.5e-5],[805,4.1e-5],[815,3.5e-5],[825,4.1e-5],[835,3.5e-5],[845,4.1e-5],[855,3.5e-5],[865,4.1e-5],[875,3.5e-5],[885,4.1e-5],[895,3.5e-5],[905,4.1e-5],[915,3.5e-5],[925,4.1e-5],[935,3.5e-5],[945,4.1e-5],[955,3.5e-5],[965,4.1e-5],[975,3.5e-5],[985,4.1e-5],[995,3.5e-5],[1000,3.8e-5]];

// ---------------- rendering ----------------
const MINOR_FACTORS = [2, 3, 4, 5, 6, 7, 8, 9];

type PanelCfg = {
  left: number; top: number; w: number; h: number;
  xMax: number; xTicks: number[]; xLabels: string[];
  yMajor: number[]; yLabels: string[];
  series: Pt[][];
};

const YW = 80, MT = 10, MR = 30, XH = 30;

function TickText({ x, y, label, anchor }: { x: number; y: number; label: string; anchor: 'end' | 'middle' }) {
  const parts = label.split('^');
  return (
    <text x={x} y={y} dy="0.35em" textAnchor={anchor} fontSize={FS} fontFamily={FONT} fill="#000">
      {parts[0]}
      {parts[1] ? <tspan dy={-4} fontSize={8}>{parts[1]}</tspan> : null}
    </text>
  );
}

function Panel({ cfg }: { cfg: PanelCfg }) {
  const { left, top, w, h, xMax, xTicks, xLabels, yMajor, yLabels, series } = cfg;
  const yMin = Math.min(...yMajor);
  const yMax = Math.max(...yMajor);
  const minors = yMajor.flatMap((m) => MINOR_FACTORS.map((f) => f * m)).filter((v) => v < yMax);
  const allY = [...yMajor, ...minors];
  const pl = YW, pr = YW + w, pt = MT, pb = MT + h;
  const majorIndex = (v: number) => yMajor.findIndex((m) => Math.abs(v / m - 1) < 1e-9);

  const renderY = (props: any) => {
    const y = props.y;
    const v = props.payload.value;
    const idx = majorIndex(v);
    const len = idx >= 0 ? 6 : 3;
    return (
      <g>
        <line x1={pl} x2={pl + len} y1={y} y2={y} stroke="#000" strokeWidth={1} />
        <line x1={pr - len} x2={pr} y1={y} y2={y} stroke="#000" strokeWidth={1} />
        {idx >= 0 ? <TickText x={pl - 7} y={y} label={yLabels[idx]} anchor="end" /> : null}
      </g>
    );
  };
  const renderX = (props: any) => {
    const x = props.x;
    const v = props.payload.value;
    const idx = xTicks.indexOf(v);
    return (
      <g>
        <line x1={x} x2={x} y1={pb} y2={pb - 6} stroke="#000" strokeWidth={1} />
        <line x1={x} x2={x} y1={pt} y2={pt + 6} stroke="#000" strokeWidth={1} />
        <TickText x={x} y={pb + 14} label={xLabels[idx] ?? String(v)} anchor="middle" />
      </g>
    );
  };

  const textStyle: React.CSSProperties = { position: 'absolute', fontFamily: FONT, fontSize: FS, color: '#000', lineHeight: '14px', whiteSpace: 'nowrap' };

  return (
    <>
      <div style={{ position: 'absolute', left: left - YW, top: top - MT }}>
        <LineChart width={YW + w + MR} height={MT + h + XH} margin={{ top: MT, right: MR, bottom: 0, left: 0 }}>
          <XAxis type="number" dataKey="x" domain={[0, xMax]} ticks={xTicks} interval={0} allowDataOverflow tick={renderX} tickLine={false} axisLine={false} height={XH} />
          <YAxis type="number" scale="log" domain={[yMin, yMax]} ticks={allY} interval={0} allowDataOverflow tick={renderY} tickLine={false} axisLine={false} width={YW} />
          {series.map((s, i) => (
            <Line key={SERIES_NAMES[i]} data={s.map(([x, v]) => ({ x, v }))} dataKey="v" name={SERIES_NAMES[i]} type="linear" stroke={SERIES_COLORS[i]} strokeWidth={1} dot={false} activeDot={false} isAnimationActive={false} />
          ))}
        </LineChart>
      </div>
      <div style={{ position: 'absolute', left, top, width: w, height: h, border: '1px solid #000', boxSizing: 'border-box', pointerEvents: 'none' }} />
      <div style={{ ...textStyle, left, width: w, top: top - 27, textAlign: 'center' }}>Residuals</div>
      <div style={{ ...textStyle, left, width: w, top: top + h + 26, textAlign: 'center' }}>Iteration</div>
      <div style={{ ...textStyle, left: left - 73, top: top + h / 2, transform: 'translate(-50%, -50%) rotate(-90deg)' }}>Residual</div>
      {SERIES_NAMES.map((name, i) => (
        <div key={name} style={{ ...textStyle, left: left + w - 146, width: 100, top: top + 12 + 13.2 * i - 7, textAlign: 'right' }}>{name}</div>
      ))}
      <svg style={{ position: 'absolute', left: left + w - 42, top, pointerEvents: 'none' }} width={34} height={80}>
        {SERIES_NAMES.map((name, i) => {
          const cy = Math.round(12 + 13.2 * i) + 0.5;
          return <line key={name} x1={2} x2={32} y1={cy} y2={cy} stroke={SERIES_COLORS[i]} strokeWidth={1.5} />;
        })}
      </svg>
    </>
  );
}

const PANELS: PanelCfg[] = [
  { left: 87, top: 37, w: 462, h: 343, xMax: 1000, xTicks: A_X_TICKS, xLabels: A_X_LABELS, yMajor: A_Y_MAJOR, yLabels: A_Y_LABELS, series: [A_UX, A_UY, A_EPS, A_K, A_P] },
  { left: 642, top: 37, w: 476, h: 343, xMax: 1000, xTicks: B_X_TICKS, xLabels: B_X_LABELS, yMajor: B_Y_MAJOR, yLabels: B_Y_LABELS, series: [B_UX, B_UY, B_EPS, B_K, B_P] },
  { left: 418, top: 481, w: 464, h: 315, xMax: 1200, xTicks: C_X_TICKS, xLabels: C_X_LABELS, yMajor: C_Y_MAJOR, yLabels: C_Y_LABELS, series: [C_UX, C_UY, C_EPS, C_K, C_P] },
];

export default function App() {
  return (
    <div style={{ position: 'absolute', left: 0, top: 0, width: 1140, height: 834, background: '#fff', overflow: 'hidden' }}>
      {PANELS.map((cfg, i) => (
        <Panel key={i} cfg={cfg} />
      ))}
    </div>
  );
}
